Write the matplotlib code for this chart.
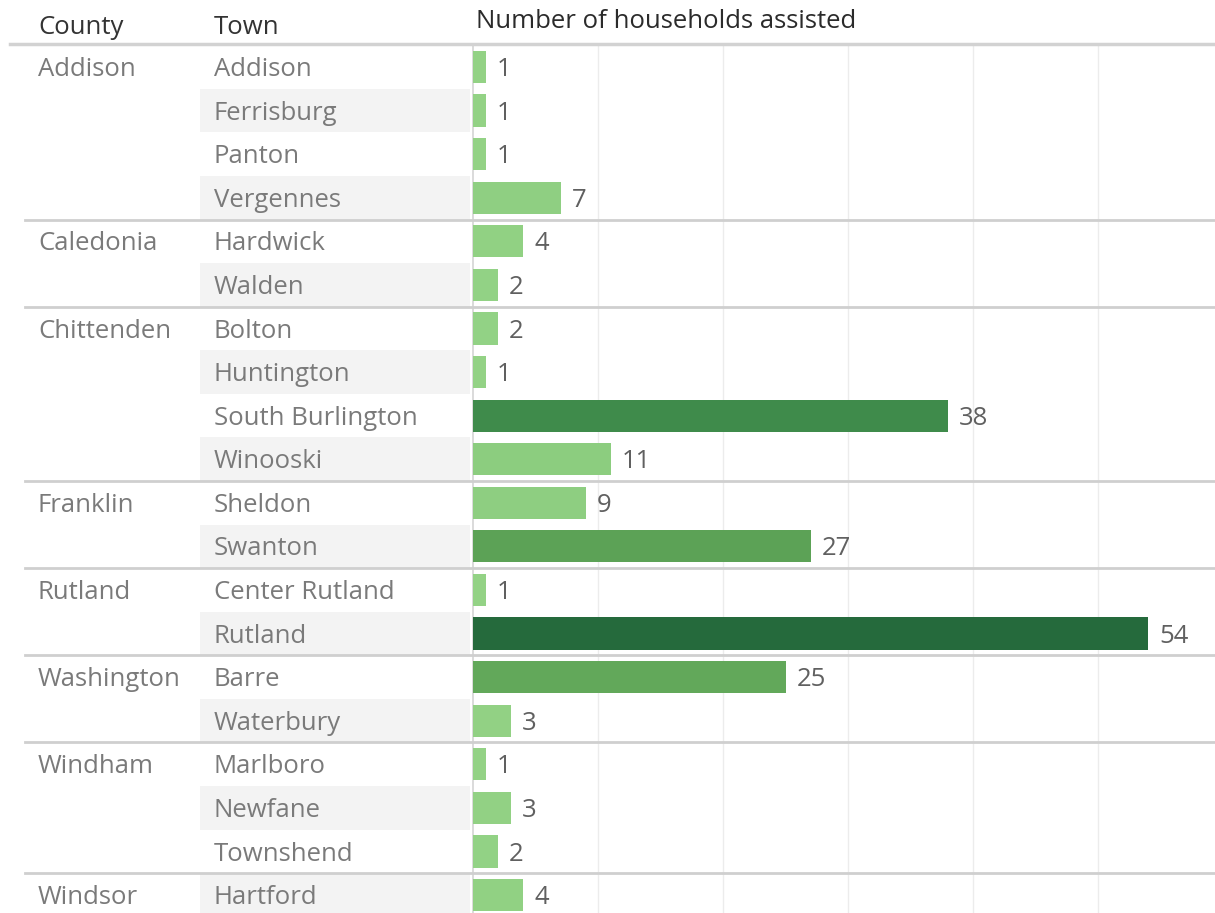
import matplotlib
matplotlib.use("Agg")
import matplotlib.pyplot as plt
from matplotlib.colors import LinearSegmentedColormap, Normalize
from matplotlib.transforms import blended_transform_factory
from matplotlib.patches import Rectangle

counties = ["Addison", "Caledonia", "Chittenden", "Franklin", "Rutland",
            "Washington", "Windham", "Windsor"]
county_sizes = [4, 2, 4, 2, 2, 2, 3, 1]
towns = ["Addison", "Ferrisburg", "Panton", "Vergennes",
         "Hardwick", "Walden",
         "Bolton", "Huntington", "South Burlington", "Winooski",
         "Sheldon", "Swanton",
         "Center Rutland", "Rutland",
         "Barre", "Waterbury",
         "Marlboro", "Newfane", "Townshend",
         "Hartford"]
households = [1, 1, 1, 7, 4, 2, 2, 1, 38, 11, 9, 27, 1, 54, 25, 3, 1, 3, 2, 4]
gridticks = [10, 20, 30, 40, 50]

FONT = ["Open Sans", "DejaVu Sans"]
plt.rcParams["font.family"] = FONT
FS = 18.5

W, H = 1215, 913
fig = plt.figure(figsize=(W / 100, H / 100), dpi=100)
fig.patch.set_facecolor("white")

row_h = 43.58
top_px = 45.2
n = len(towns)
bottom_px = top_px + row_h * n
left_px = 473
ax = fig.add_axes([left_px / W, (H - bottom_px) / H, (W - left_px) / W, row_h * n / H])
ax.set_xlim(0, (W - left_px) / 12.5)
ax.set_ylim(n - 0.5, -0.5)
ax.set_facecolor("none")
for s in ["top", "right", "bottom"]:
    ax.spines[s].set_visible(False)
ax.spines["left"].set_color("#d4d4d4")
ax.spines["left"].set_linewidth(1.2)
ax.set_xticks(gridticks)
ax.set_yticks([])
ax.tick_params(axis="x", length=0, labelbottom=False)
ax.grid(axis="x", color="#ececec", linewidth=1.0)
ax.set_axisbelow(True)

cmap = LinearSegmentedColormap.from_list(
    "tgreen",
    [(0.0, "#93d285"), (0.2, "#8ccd7f"), (0.45, "#62a85a"),
     (0.5, "#5aa055"), (0.7, "#3f8b4b"), (1.0, "#256a3c")])
norm = Normalize(vmin=1, vmax=54)
ys = list(range(n))
ax.barh(ys, households, height=0.74, color=[cmap(norm(v)) for v in households],
        zorder=3)
DY = 0.06
for y, v in zip(ys, households):
    ax.annotate(str(v), (v, y + DY), xytext=(8, 0), textcoords="offset points",
                va="center", ha="left", fontsize=FS, color="#606060")

# figure-x / data-y transform
tr = blended_transform_factory(fig.transFigure, ax.transData)

# town banding
for i in range(n):
    if i % 2 == 1:
        fig.patches.append(Rectangle((200 / W, i - 0.5), 270 / W, 1.0,
                                     transform=tr, facecolor="#f3f3f3",
                                     edgecolor="none", zorder=0))

# town labels
for i, t in enumerate(towns):
    fig.text(214 / W, i + DY, t, transform=tr, va="center", ha="left",
             fontsize=FS, color="#7a7a7a")

# county labels and separators
start = 0
for c, sz in zip(counties, county_sizes):
    fig.text(38 / W, start + DY, c, transform=tr, va="center", ha="left",
             fontsize=FS, color="#7a7a7a")
    if start > 0:
        fig.add_artist(plt.Line2D([25 / W, 1.0], [start - 0.5, start - 0.5],
                                  transform=tr, color="#cfcfcf", linewidth=2.0))
    start += sz

# header
fig.add_artist(plt.Line2D([10 / W, 1.0], [1 - 44 / H, 1 - 44 / H],
                          transform=fig.transFigure, color="#d2d2d2", linewidth=2.5))
fig.text(38 / W, 1 - 28 / H, "County", va="center", ha="left", fontsize=FS, color="#333333")
fig.text(214 / W, 1 - 28 / H, "Town", va="center", ha="left", fontsize=FS, color="#333333")
fig.text(476 / W, 1 - 22 / H, "Number of households assisted", va="center",
         ha="left", fontsize=FS, color="#2b2b2b")

fig.savefig("out.png", dpi=100, facecolor="white")
